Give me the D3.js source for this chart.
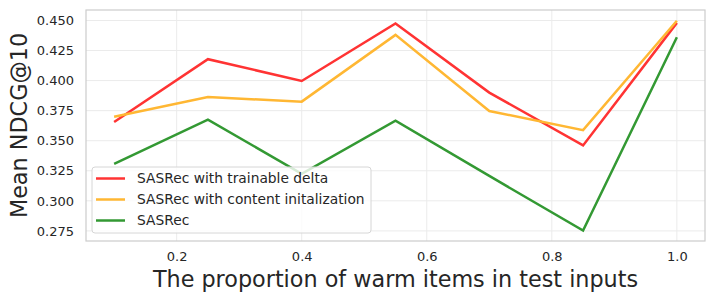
<!DOCTYPE html>
<html>
<head>
<meta charset="utf-8">
<script src="https://cdn.jsdelivr.net/npm/d3@7"></script>
<style>
  body { margin: 0; background: #fff; }
  text { font-family: "DejaVu Sans", sans-serif; fill: #262626; }
</style>
</head>
<body>
<svg id="chart" width="714" height="300"></svg>
<script>
// proportion of warm items
var proportions = [0.1, 0.25, 0.4, 0.55, 0.7, 0.85, 1.0];

var trainableDelta = [0.3655, 0.4178, 0.3997, 0.4475, 0.3900, 0.3461, 0.4480];
var contentInit    = [0.3700, 0.3863, 0.3825, 0.4380, 0.3747, 0.3588, 0.4498];
var sasrec         = [0.3308, 0.3675, 0.3225, 0.3667, 0.3207, 0.2753, 0.4360];

var xTicks = [0.2, 0.4, 0.6, 0.8, 1.0];
var yTicks = [0.275, 0.300, 0.325, 0.350, 0.375, 0.400, 0.425, 0.450];

var seriesNames = ["SASRec with trainable delta", "SASRec with content initalization", "SASRec"];
var seriesValues = [trainableDelta, contentInit, sasrec];
var seriesColors = ["#ff3333", "#ffb733", "#339933"];

// plot box (window.top is read-only, so no bare "top")
var pL = 86, pR = 705, pT = 10, pB = 241;

var svg = d3.select("#chart");

var x = d3.scaleLinear().domain([0.055, 1.045]).range([pL, pR]);
var y = d3.scaleLinear().domain([0.2666, 0.4587]).range([pB, pT]);

// grid
svg.append("g")
    .selectAll("line")
    .data(xTicks)
    .enter().append("line")
    .attr("x1", d => x(d)).attr("x2", d => x(d))
    .attr("y1", pT).attr("y2", pB)
    .attr("stroke", "#ebebeb").attr("stroke-width", 1);

svg.append("g")
    .selectAll("line")
    .data(yTicks)
    .enter().append("line")
    .attr("x1", pL).attr("x2", pR)
    .attr("y1", d => y(d)).attr("y2", d => y(d))
    .attr("stroke", "#ebebeb").attr("stroke-width", 1);

// axes (labels only, whitegrid style has no tick marks)
var xAxis = svg.append("g")
    .attr("transform", "translate(0," + pB + ")")
    .call(d3.axisBottom(x).tickValues(xTicks).tickFormat(d3.format(".1f")).tickSize(0).tickPadding(11));
xAxis.select(".domain").remove();
xAxis.selectAll("text").style("font-size", "13px").attr("fill", "#262626");

var yAxis = svg.append("g")
    .attr("transform", "translate(" + pL + ",0)")
    .call(d3.axisLeft(y).tickValues(yTicks).tickFormat(d3.format(".3f")).tickSize(0).tickPadding(12));
yAxis.select(".domain").remove();
yAxis.selectAll("text").style("font-size", "13px").attr("fill", "#262626");

// lines
var line = d3.line()
    .x((d, i) => x(proportions[i]))
    .y(d => y(d));

seriesValues.forEach(function(vals, k) {
  svg.append("path")
      .datum(vals)
      .attr("d", line)
      .attr("fill", "none")
      .attr("stroke", seriesColors[k])
      .attr("stroke-width", 2.5);
});

// frame
svg.append("rect")
    .attr("x", pL).attr("y", pT)
    .attr("width", pR - pL).attr("height", pB - pT)
    .attr("fill", "none").attr("stroke", "#cccccc").attr("stroke-width", 1.2);

// legend
var lg = svg.append("g").attr("transform", "translate(92,167)");
lg.append("rect")
    .attr("width", 279).attr("height", 66)
    .attr("rx", 3).attr("ry", 3)
    .attr("fill", "#ffffff").attr("fill-opacity", 0.8)
    .attr("stroke", "#d6d6d6").attr("stroke-width", 1);

seriesNames.forEach(function(name, k) {
  var yy = 11.5 + k * 21;
  lg.append("line")
      .attr("x1", 4).attr("x2", 33)
      .attr("y1", yy).attr("y2", yy)
      .attr("stroke", seriesColors[k]).attr("stroke-width", 2.5);
  lg.append("text")
      .attr("x", 45).attr("y", yy)
      .attr("dy", "0.35em")
      .style("font-size", "13.8px")
      .text(name);
});

// axis titles
svg.append("text")
    .attr("x", (pL + pR) / 2).attr("y", 287)
    .attr("text-anchor", "middle")
    .style("font-size", "22.3px")
    .text("The proportion of warm items in test inputs");

svg.append("text")
    .attr("transform", "translate(27," + ((pT + pB) / 2) + ") rotate(-90)")
    .attr("text-anchor", "middle")
    .style("font-size", "22.3px")
    .text("Mean NDCG@10");
</script>
</body>
</html>
